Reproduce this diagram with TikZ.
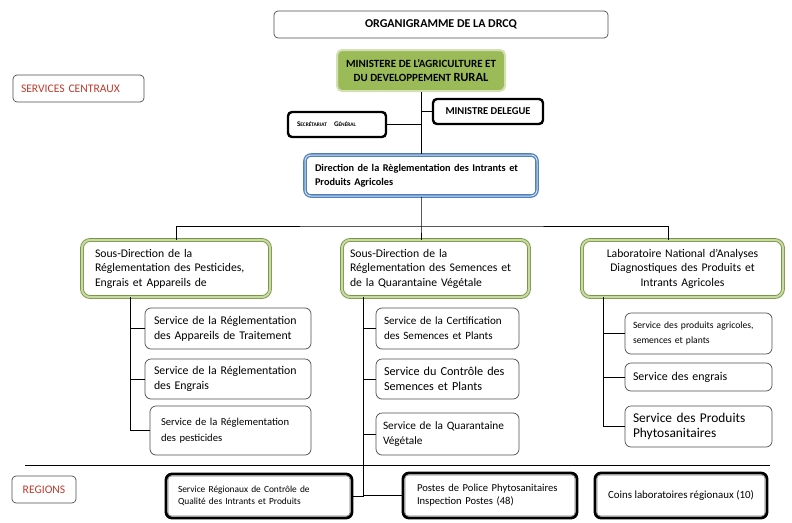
\documentclass[tikz,border=0pt]{standalone}
\usepackage{fontspec}
\setmainfont{Carlito}
\usepackage{tikz}
\usetikzlibrary{positioning,calc}
\definecolor{mingreen}{HTML}{9BBB59}
\definecolor{dirblue}{HTML}{4F81BD}
\definecolor{zonered}{HTML}{C0392B}
\newcommand{\fsz}[2]{\fontsize{#1}{#2}\selectfont}
\hyphenpenalty=10000
\tikzset{
  plainbox/.style={draw=black!70, line width=0.7pt, rounded corners=4pt},
  zonebox/.style={plainbox, text=zonered, font=\fsz{11.6}{13}},
  minbox/.style={fill=mingreen, draw=mingreen!45!white, line width=2pt, rounded corners=5pt, align=center, font=\bfseries\fsz{11}{14}},
  darkbox/.style={draw=black, line width=2.4pt, rounded corners=4pt, font=\bfseries},
  dirbox/.style={draw=dirblue, double=dirblue!25!white, double distance=1pt, line width=1.3pt, rounded corners=6pt, align=left, font=\bfseries\fsz{10.3}{14}},
  subbox/.style={draw=mingreen!80!black, double=mingreen!55!white, double distance=2pt, line width=0.9pt, rounded corners=8pt, fill=white, font=\fsz{11.7}{14.5}},
  servbox/.style={plainbox, rounded corners=6pt, align=left},
  regbox/.style={draw=black, line width=2.8pt, rounded corners=6pt, align=left},
  innerline/.style={draw=black!55, line width=0.5pt, rounded corners=3pt},
  link/.style={draw=black, line width=0.8pt}
}
\begin{document}
\begin{tikzpicture}[x=1pt, y=-1pt]
    \path[use as bounding box] (0,0) rectangle (792,522);

    % titre
    \node [plainbox, minimum width=334pt, minimum height=27pt, font=\bfseries\fsz{12}{14}] (title) at (441,24.5) {ORGANIGRAMME DE LA DRCQ};

    % zones
    \node [zonebox, minimum height=27pt, text width=115pt, inner xsep=8pt, align=left] (central) at (78.5,88.5) {SERVICES CENTRAUX};
    \node [zonebox, minimum width=64pt, minimum height=27pt] (regions) at (44,489.5) {REGIONS};

    % ministere
    \node [minbox, minimum width=168pt, minimum height=41pt] (min) at (421,70.5) {MINISTERE DE L’AGRICULTURE ET\\DU DEVELOPPEMENT {\fsz{12.5}{14}RURAL}};
    \node [darkbox, minimum width=110pt, minimum height=25pt, font=\bfseries\fsz{10.5}{12}] (mdel) at (488,111.5) {MINISTRE DELEGUE};
    \node [darkbox, minimum height=25pt, text width=80pt, inner xsep=9pt, align=left, font=\bfseries\fsz{7.1}{8}] (sg) at (337,124.5) {S{\fsz{5.4}{8}ECRÉTARIAT}\quad G{\fsz{5.4}{8}ÉNÉRAL}};

    % direction
    \node [dirbox, minimum height=41pt, text width=212pt, inner xsep=10pt] (dir) at (421,175.5) {Direction de la Règlementation des Intrants et\\Produits Agricoles};

    % sous-directions
    \node [subbox, minimum height=57pt, text width=162pt, inner xsep=13pt, align=left] (sd1) at (176,268.5) {Sous-Direction de la\\Réglementation des Pesticides,\\Engrais et Appareils de};
    \node [subbox, minimum height=57pt, text width=171pt, inner xsep=8pt, align=left] (sd2) at (435.5,268.5) {Sous-Direction de la\\Réglementation des Semences et\\de la Quarantaine Végétale};
    \node [subbox, minimum height=57pt, text width=185pt, inner xsep=8pt, align=center] (sd3) at (682.5,268.5) {Laboratoire National d’Analyses\\Diagnostiques des Produits et\\Intrants Agricoles};

    % services pesticides
    \node [servbox, minimum height=41pt, text width=148pt, inner xsep=9pt, font=\fsz{11.8}{15}] (s11) at (228,328.5) {Service de la Réglementation\\des Appareils de Traitement};
    \node [servbox, minimum height=40pt, text width=148pt, inner xsep=9pt, font=\fsz{11.8}{15}] (s12) at (228,379) {Service de la Réglementation\\des Engrais};
    \node [servbox, minimum height=49pt, text width=139pt, inner xsep=11pt, font=\fsz{10.6}{16.5}] (s13) at (230.5,430.5) {Service de la Réglementation\\des pesticides};

    % services semences
    \node [servbox, minimum height=41pt, text width=127pt, inner xsep=8pt, font=\fsz{11.1}{15}] (s21) at (447.5,328.5) {Service de la Certification\\des Semences et Plants};
    \node [servbox, minimum height=40pt, text width=127pt, inner xsep=8pt, font=\fsz{12.2}{15.5}] (s22) at (447.5,379) {Service du Contrôle des\\Semences et Plants};
    \node [servbox, minimum height=42pt, text width=129pt, inner xsep=7pt, font=\fsz{11.3}{15.5}] (s23) at (447.5,434) {Service de la Quarantaine\\Végétale};

    % services laboratoire
    \node [servbox, minimum height=41pt, text width=131pt, inner xsep=8pt, font=\fsz{9.6}{14.5}] (l1) at (698.5,333.5) {Service des produits agricoles,\\semences et plants};
    \node [servbox, minimum height=28pt, text width=131pt, inner xsep=8pt, font=\fsz{11.9}{13}] (l2) at (698.5,377) {Service des engrais};
    \node [servbox, minimum height=41pt, text width=131pt, inner xsep=8pt, font=\fsz{13.4}{15.5}] (l3) at (698.5,426.5) {Service des Produits\\Phytosanitaires};

    % regions
    \draw [link] (25,465) -- (770,465);
    \node [regbox, minimum height=44pt, text width=162pt, inner xsep=12pt, font=\fsz{9.4}{12.5}] (r1) at (259,496) {Service Régionaux de Contrôle de\\Qualité des Intrants et Produits};
    \node [regbox, minimum height=45pt, text width=146pt, inner xsep=14pt, font=\fsz{10.6}{13}] (r2) at (490,495.5) {Postes de Police Phytosanitaires\\Inspection Postes (48)};
    \node [regbox, minimum width=172pt, minimum height=45pt, font=\fsz{10.9}{13}] (r3) at (681,495.5) {Coins laboratoires régionaux (10)};
    \foreach \r in {r1,r2,r3}
        \draw [innerline] ([shift={(3.5pt,-3.5pt)}]\r.north west) rectangle ([shift={(-3.5pt,3.5pt)}]\r.south east);

    % liaisons
    \draw [link] (min.south) -- (dir.north);
    \draw [link] (sg.east) -- (sg.east -| min.south);
    \draw [link] (mdel.west) -- (mdel.west -| min.south);

    \coordinate (bus) at (421,226);
    \draw [link] (dir.south) -- (bus) -- (bus |- sd2.north);
    \draw [link] (sd1.north) |- (bus) -| ([xshift=-14pt]sd3.north);

    \coordinate (t1) at (130,297);
    \draw [link] (t1) |- (s13.west);
    \foreach \s in {s11,s12}
        \draw [link] (t1 |- \s.west) -- (\s.west);

    \coordinate (t2) at (363,297);
    \draw [link] (t2) |- (r1.east);
    \draw [link] (t2 |- r2.west) -- (r2.west);
    \foreach \s in {s21,s22,s23}
        \draw [link] (t2 |- \s.west) -- (\s.west);

    \coordinate (t3) at (603,297);
    \draw [link] (t3) |- (l3.west);
    \foreach \s in {l1,l2}
        \draw [link] (t3 |- \s.west) -- (\s.west);
\end{tikzpicture}
\end{document}
